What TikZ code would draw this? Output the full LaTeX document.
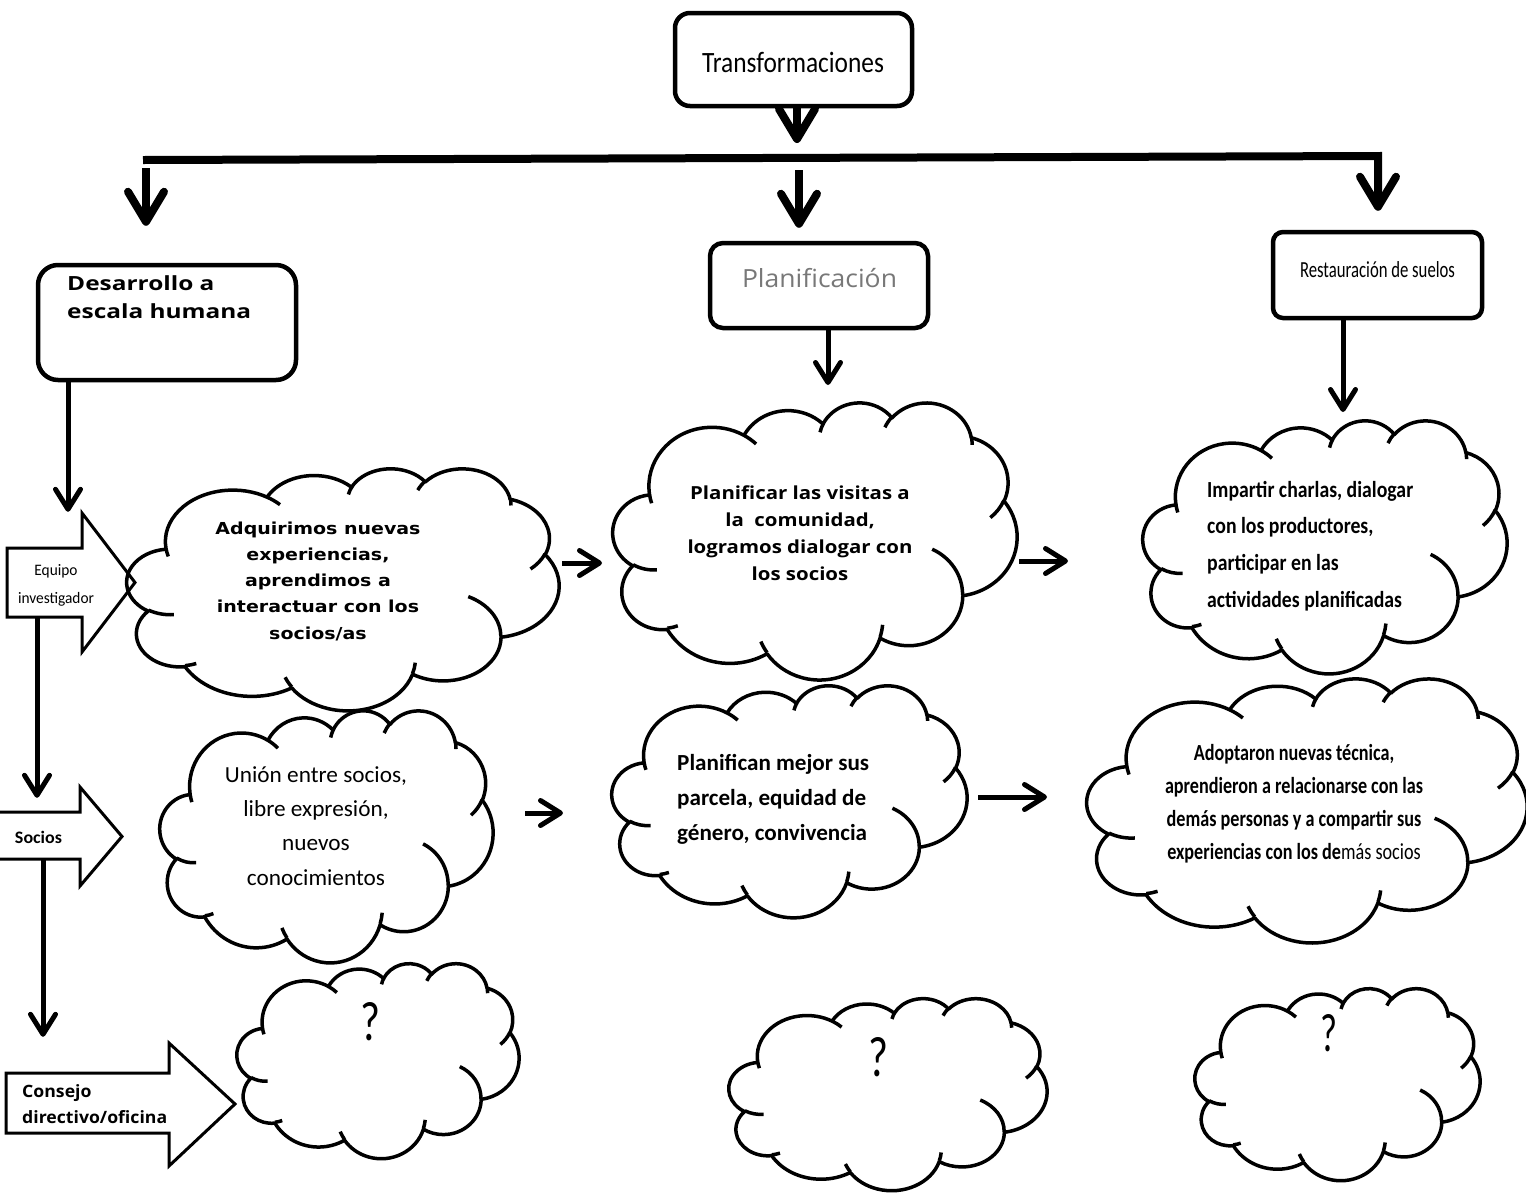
\documentclass[tikz,border=0pt]{standalone}
\usepackage{fontspec}
\setmainfont{Carlito}
\newfontfamily\osans{Open Sans}
\newfontfamily\dvs{DejaVu Sans}
\usetikzlibrary{arrows.meta}
\definecolor{plgray}{RGB}{120,120,120}
\newcommand\tb[4]{\resizebox{#1}{\height}{#3\begin{tabular}[t]{@{}#2@{}}#4\end{tabular}}}
\tikzset{
  bigarr/.style={line width=8pt, line join=miter, -{Straight Barb[length=30pt,width=36pt,round]}},
  arrM/.style={line width=5pt, -{Straight Barb[length=20pt,width=25pt,round]}},
  boxst/.style={draw, line width=4.5pt, inner sep=0pt},
  blk/.style={draw, line width=3pt, fill=white, line join=miter},
  cloudline/.style={line width=3.5pt, line join=round},
  txt/.style={inner sep=0pt},
  shaft/.style={inner sep=0pt},
}
\newcommand\mscloud[4]{%
\begin{scope}[shift={(#1,#2)},xscale=#3/43.2,yscale=#4/43.2]
\draw[cloudline] (3.9,14.37)
 arc[start angle=-187.75,end angle=-59.63,x radius=6.753,y radius=9.19]
 arc[start angle=-152.03,end angle=-45.44,x radius=5.333,y radius=7.267]
 arc[start angle=-153.49,end angle=-37.33,x radius=4.365,y radius=5.945]
 arc[start angle=-139.70,end angle=-10.21,x radius=4.857,y radius=6.595]
 arc[start angle=-74.77,end angle=23.21,x radius=5.333,y radius=7.273]
 arc[start angle=-37.53,end angle=81.86,x radius=6.775,y radius=9.22]
 arc[start angle=0.46,end angle=121.98,x radius=5.785,y radius=7.867]
 arc[start angle=16.84,end angle=146.27,x radius=6.752,y radius=9.215]
 arc[start angle=58.98,end angle=150.20,x radius=7.72,y radius=10.543]
 arc[start angle=-276.69,end angle=-136.90,x radius=4.36,y radius=5.918]
 arc[start angle=-239.64,end angle=-95.89,x radius=4.345,y radius=5.945]
 -- cycle;
\draw[cloudline]
 (4.693,26.177) arc[start angle=85.55,end angle=120.36,x radius=4.345,y radius=5.945]
 (6.928,34.899) arc[start angle=68.23,end angle=83.31,x radius=4.36,y radius=5.918]
 (16.478,39.09) arc[start angle=146.27,end angle=158.47,x radius=6.752,y radius=9.215]
 (28.827,34.751) arc[start angle=4.74,end angle=16.84,x radius=6.752,y radius=9.215]
 (34.129,22.954) arc[start angle=-64.03,end angle=0.46,x radius=5.785,y radius=7.867]
 (41.798,15.354) arc[start angle=23.21,end angle=49.64,x radius=5.333,y radius=7.273]
 (38.324,5.426) arc[start angle=-10.21,end angle=0.82,x radius=4.857,y radius=6.595]
 (29.078,3.952) arc[start angle=-156.29,end angle=-139.70,x radius=4.857,y radius=6.595]
 (22.141,4.72) arc[start angle=-167.73,end angle=-153.49,x radius=4.365,y radius=5.945]
 (14.0,5.192) arc[start angle=-59.63,end angle=-45.72,x radius=6.753,y radius=9.19]
 (4.127,15.789) arc[start angle=163.19,end angle=172.25,x radius=6.753,y radius=9.19];
\end{scope}}
\newcommand\cloudnode[5]{%
\node[inner sep=0pt, minimum width=#4, minimum height=#5, anchor=north west] (#1) at (#2,#3) {};
\mscloud{#2}{#3}{#4}{#5}}
\begin{document}
\begin{tikzpicture}[x=1pt, y=1pt, yscale=-1]
\fill[white] (0,0) rectangle (1526,1195);
\useasboundingbox (0,0) rectangle (1526,1195);

% boxes
\node[boxst, rounded corners=15pt, minimum width=237, minimum height=93] (tr) at (793.5,59.5) {};
\node[txt, anchor=base] (trT) at (793,72) {\resizebox{182pt}{\height}{\fontsize{29.5}{34}\selectfont Transformaciones}};
\node[boxst, rounded corners=20pt, minimum width=258, minimum height=115] (des) at (167,322.5) {};
\node[txt, anchor=base west] (desT) at (67,290) {\tb{184pt}{l}{\osans\bfseries\fontsize{19.5}{28}\selectfont}{Desarrollo a\\escala humana}};
\node[boxst, rounded corners=13pt, minimum width=218, minimum height=85] (pl) at (819,285.5) {};
\node[txt, anchor=base] (plT) at (819.5,287) {\resizebox{155pt}{\height}{\osans\fontsize{25}{30}\selectfont\color{plgray}Planificación}};
\node[boxst, rounded corners=10pt, minimum width=209, minimum height=86] (rs) at (1377.5,275) {};
\node[txt, anchor=base] (rsT) at (1377.5,277) {\resizebox{155pt}{\height}{\fontsize{23}{28}\selectfont Restauración de suelos}};

% bar and top arrows
\coordinate (barL) at (143,160);
\coordinate (barR) at (1378,156);
\coordinate (barM) at (797,158);
\coordinate (b1) at (146,168);
\coordinate (b2) at (799,170);
\draw[bigarr, shorten >=15pt] (tr.south -| barM) -- (barM);
\draw[bigarr, shorten >=19pt] (barL) -- (barR) -- (barR |- rs.north);
\draw[bigarr, shorten >=37pt] (b1) -- (b1 |- des.north);
\draw[bigarr, shorten >=13pt] (b2) -- (b2 |- pl.north);

% block arrows
\draw[blk] (7,548) -- (82,548) -- (82,513) -- (135,582.5) -- (82,652) -- (82,617) -- (7,617) -- cycle;
\draw[blk] (-3,812) -- (80,812) -- (80,787) -- (122,836.5) -- (80,886) -- (80,859) -- (-3,859) -- cycle;
\draw[blk] (6,1073) -- (169,1073) -- (169,1043) -- (235,1104) -- (169,1166) -- (169,1133) -- (6,1133) -- cycle;
\node[shaft, minimum width=75, minimum height=69] (eq) at (44.5,582.5) {};
\node[shaft, minimum width=83, minimum height=47] (so) at (38.5,835.5) {};
\node[shaft, minimum width=163, minimum height=60] (co) at (87.5,1103) {};
\node[txt, anchor=base] (eqT) at (56,575) {\tb{76pt}{c}{\fontsize{16}{28}\selectfont}{Equipo\\investigador}};
\node[txt, anchor=base] (soT) at (38.5,843) {\resizebox{47pt}{\height}{\bfseries\fontsize{17.5}{20}\selectfont Socios}};
\node[txt, anchor=base west] (coT) at (22,1097) {\tb{145pt}{l}{\osans\bfseries\fontsize{17}{26}\selectfont}{Consejo\\directivo/oficina}};

% clouds
\cloudnode{cA}{127}{468}{432}{242}
\cloudnode{cB}{613}{402}{404}{277}
\cloudnode{cC}{1143}{420}{364}{253}
\cloudnode{cD}{160}{710}{333}{252}
\cloudnode{cE}{612}{685}{355}{232}
\cloudnode{cF}{1087}{678}{440}{264}
\cloudnode{cG}{237}{963}{282}{195}
\cloudnode{cH}{729}{998}{318}{192}
\cloudnode{cI}{1195}{988}{285}{192}

% cloud texts
\node[txt, anchor=base] (tA) at (318,534) {\tb{205pt}{c}{\dvs\bfseries\fontsize{16.5}{26.3}\selectfont}{Adquirimos nuevas\\experiencias,\\aprendimos a\\interactuar con los\\socios/as}};
\node[txt, anchor=base] (tB) at (800,499) {\tb{225pt}{c}{\osans\bfseries\fontsize{18}{27}\selectfont}{Planificar las visitas a\\la~~comunidad,\\logramos dialogar con\\los socios}};
\node[txt, anchor=base west] (tC) at (1207,497) {\tb{206pt}{l}{\bfseries\fontsize{23}{36.7}\selectfont}{Impartir charlas, dialogar\\con los productores,\\participar en las\\actividades planificadas}};
\node[txt, anchor=base] (tD) at (316,782) {\tb{182pt}{c}{\fontsize{23}{34.4}\selectfont}{Unión entre socios,\\libre expresión,\\nuevos\\conocimientos}};
\node[txt, anchor=base west] (tE) at (677,770) {\tb{192pt}{l}{\bfseries\fontsize{23}{35}\selectfont}{Planifican mejor sus\\parcela, equidad de\\género, convivencia}};
\node[txt, anchor=base] (tF) at (1294,760) {\tb{258pt}{c}{\bfseries\fontsize{23}{33.3}\selectfont}{Adoptaron nuevas técnica,\\aprendieron a relacionarse con las\\demás personas y a compartir sus\\experiencias con los de{\mdseries más socios}}};
\node[txt, anchor=south] (qG) at (370,1041) {\resizebox{20pt}{38pt}{?}};
\node[txt, anchor=south] (qH) at (878,1077) {\resizebox{20pt}{39pt}{?}};
\node[txt, anchor=south] (qI) at (1328.5,1052) {\resizebox{17pt}{37pt}{?}};

% connectors
\draw[arrM, shorten >=36pt] (des.south -| 68,0) -- (eq.north -| 68,0);
\draw[arrM, shorten >=14pt] (eq.south -| 37,0) -- (so.north -| 37,0);
\draw[arrM, shorten >=36pt] (so.south -| 43,0) -- (co.north -| 43,0);
\draw[arrM, shorten >=17pt] (pl.south -| 828,0) -- (cB.north -| 828,0);
\draw[arrM, shorten >=8pt] (rs.south -| 1343,0) -- (cC.north -| 1343,0);
\draw[arrM, shorten <=3pt, shorten >=11pt] (cA.east |- 0,563) -- (cB.west |- 0,563);
\draw[arrM, shorten <=2pt, shorten >=75pt] (cB.east |- 0,561) -- (cC.west |- 0,561);
\draw[arrM, shorten <=32pt, shorten >=49pt] (cD.east |- 0,813) -- (cE.west |- 0,813);
\draw[arrM, shorten <=11pt, shorten >=40pt] (cE.east |- 0,797) -- (cF.west |- 0,797);
\end{tikzpicture}
\end{document}
